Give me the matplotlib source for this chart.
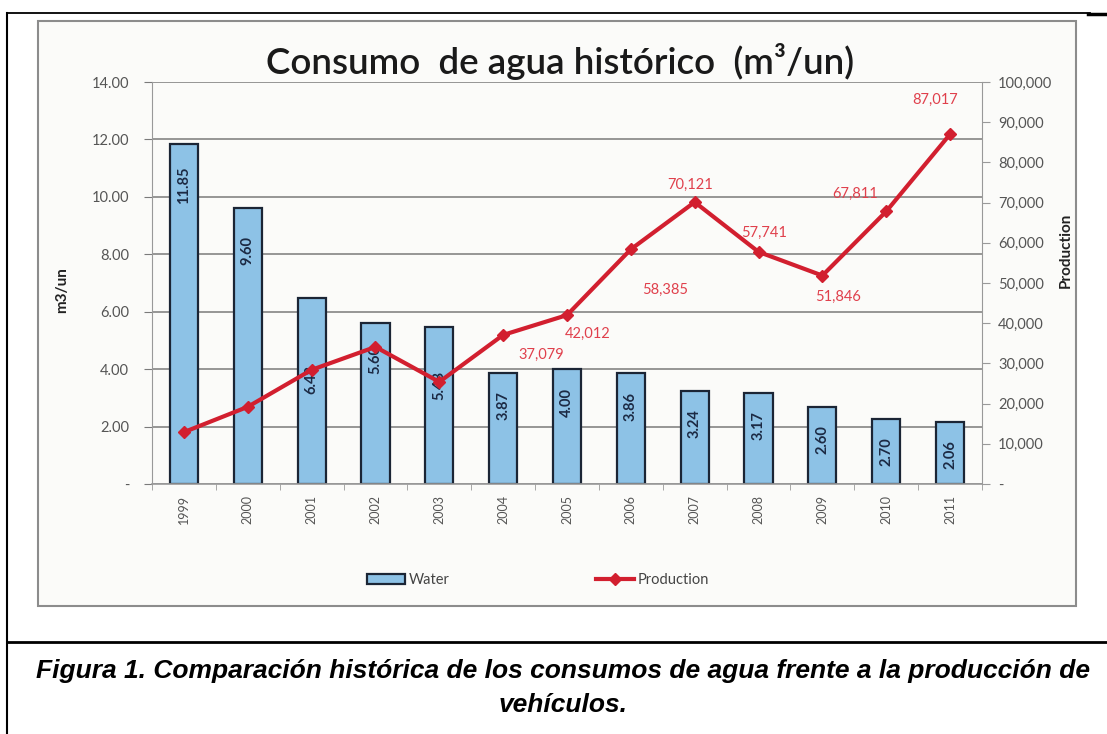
import numpy as np
import matplotlib
matplotlib.use("Agg")
import matplotlib.pyplot as plt
from matplotlib.lines import Line2D
from matplotlib.patches import Rectangle
from matplotlib.ticker import FixedLocator, FuncFormatter

years = ["1999", "2000", "2001", "2002", "2003", "2004", "2005",
         "2006", "2007", "2008", "2009", "2010", "2011"]
water = [11.85, 9.60, 6.48, 5.60, 5.48, 3.87, 4.00, 3.86, 3.24, 3.17, 2.68, 2.28, 2.16]
water_labels = ["11.85", "9.60", "6.48", "5.60", "5.48", "3.87", "4.00",
                "3.86", "3.24", "3.17", "2.60", "2.70", "2.06"]
production = [12900, 19200, 28400, 34100, 25400, 37079, 42012,
              58385, 70121, 57741, 51846, 67811, 87017]
prod_labelled = [False, False, False, False, False, True, True,
                 True, True, True, True, True, True]

# label placement (pixels)
bar_label_drop = [42, 42, 82, 36, 59, 33, 33, 33, 33, 33, 33, 33, 33]
prod_label_off = [(0, 0)] * 5 + [(38, -20), (21, -19), (34, -41), (-5, 17),
                                 (6, 19), (16, -21), (-31, 18), (-15, 34)]

W, H = 1107, 734
fig = plt.figure(figsize=(W / 100, H / 100), dpi=100)
fig.patch.set_facecolor("white")
chart_font = "Lato"


def fx(px):
    return px / W


def fy(py):
    return 1 - py / H


# document frame lines
fig.add_artist(Line2D([fx(7), fx(1090)], [fy(13), fy(13)], color="black", lw=1.3))
fig.add_artist(Line2D([fx(1088), fx(1107)], [fy(14), fy(14)], color="black", lw=2.5))
fig.add_artist(Line2D([fx(7), fx(7)], [fy(13), fy(734)], color="black", lw=1.5))
fig.add_artist(Line2D([fx(7), fx(1107)], [fy(642), fy(642)], color="black", lw=2))

# chart box
fig.add_artist(Rectangle((fx(38), fy(606)), fx(1076) - fx(38), fy(21) - fy(606),
                         transform=fig.transFigure, facecolor="#fbfbf9",
                         edgecolor="#8c8c8c", lw=1.5, zorder=0))

ax = fig.add_axes([fx(152), fy(484), fx(982) - fx(152), fy(82) - fy(484)])
ax.set_facecolor("none")
x = np.arange(len(years))

bars = ax.bar(x, water, width=0.44, color="#8dc2e6", edgecolor="#1b2535",
              linewidth=1.6, zorder=2)
for i, b in enumerate(bars):
    ax.annotate(water_labels[i], (x[i], water[i]),
                xytext=(0, -bar_label_drop[i] * 0.72), textcoords="offset points",
                rotation=90, ha="center", va="center", fontsize=10.5,
                fontweight="bold", color="#1c2a44", family=chart_font, zorder=3)

ax.set_xlim(-0.5, len(years) - 0.5)
ax.set_ylim(0, 14)
ax.yaxis.set_major_locator(FixedLocator(np.arange(0, 14.1, 2)))
ax.yaxis.set_major_formatter(FuncFormatter(lambda v, p: "-" if v == 0 else f"{v:.2f}"))
ax.grid(axis="y", color="#7a7a7a", lw=1.1, zorder=0)
ax.set_xticks(x)
ax.set_xticklabels(years, rotation=90, fontsize=9, color="#555555", family=chart_font)
ax.xaxis.set_minor_locator(FixedLocator(np.arange(-0.5, len(years), 1)))
ax.tick_params(axis="x", which="major", length=0, pad=8)
ax.tick_params(axis="x", which="minor", length=4, color="#999999")
ax.tick_params(axis="y", length=5.5, color="#7a7a7a", labelsize=10.5, labelcolor="#555555", pad=11)
for lab in ax.get_yticklabels():
    lab.set_family(chart_font)
for s in ["top", "right"]:
    ax.spines[s].set_visible(False)
ax.spines["left"].set_color("#999999")
ax.spines["bottom"].set_color("#999999")
ax.spines["bottom"].set_linewidth(1.2)

ax2 = ax.twinx()
ax2.plot(x, production, color="#d21f2f", lw=3, marker="D", markersize=6,
         markerfacecolor="#d21f2f", markeredgecolor="#d21f2f", zorder=4)
for i, v in enumerate(production):
    if prod_labelled[i]:
        dx, dy = prod_label_off[i]
        ax2.annotate(f"{v:,}", (x[i], v), xytext=(dx * 0.72, dy * 0.72),
                     textcoords="offset points", ha="center", va="center",
                     fontsize=10.5, color="#e0404c", family=chart_font)
ax2.set_ylim(0, 100000)
ax2.yaxis.set_major_locator(FixedLocator(np.arange(0, 100001, 10000)))
ax2.yaxis.set_major_formatter(FuncFormatter(lambda v, p: "-" if v == 0 else f"{int(v):,}"))
ax2.tick_params(axis="y", length=5.5, color="#999999", labelsize=10.5, labelcolor="#555555", pad=6)
for lab in ax2.get_yticklabels():
    lab.set_family(chart_font)
for s in ["top", "left", "bottom"]:
    ax2.spines[s].set_visible(False)
ax2.spines["right"].set_color("#999999")

fig.text(fx(62), fy(290), "m3/un", rotation=90, ha="center", va="center",
         fontsize=11, fontweight="bold", color="#222222", family=chart_font)
fig.text(fx(1066), fy(250), "Production", rotation=90, ha="center", va="center",
         fontsize=11, fontweight="bold", color="#222222", family=chart_font)

fig.text(fx(560), fy(62), "Consumo  de agua histórico  (m³/un)", ha="center", va="center",
         fontsize=26.5, fontweight="semibold", color="#1a1a1a", family=chart_font)

handles = [Rectangle((0, 0), 1, 1, facecolor="#8dc2e6", edgecolor="#1b2535", lw=1.6),
           Line2D([], [], color="#d21f2f", lw=3, marker="D", markersize=6)]
leg = fig.legend(handles, ["Water", "Production"], loc="center", ncol=2,
                 bbox_to_anchor=(fx(538), fy(580)), frameon=False,
                 handlelength=2.6, handletextpad=0.3, columnspacing=10,
                 prop={"family": chart_font, "size": 10.5})
for t in leg.get_texts():
    t.set_color("#444444")

fig.text(fx(563), fy(671), "Figura 1. Comparación histórica de los consumos de agua frente a la producción de",
         ha="center", va="center", fontsize=19, fontweight="bold", fontstyle="italic",
         family="Liberation Sans")
fig.text(fx(563), fy(705), "vehículos.", ha="center", va="center", fontsize=19,
         fontweight="bold", fontstyle="italic", family="Liberation Sans")

fig.savefig("out.png", dpi=100)
